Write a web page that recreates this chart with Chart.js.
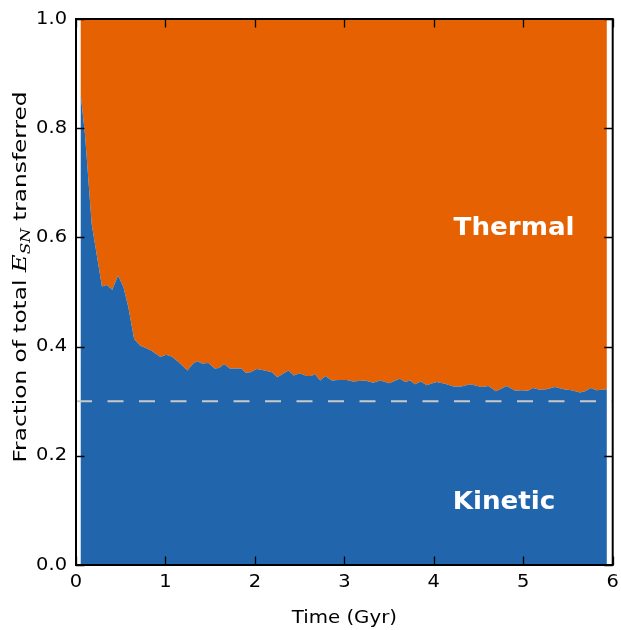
<!DOCTYPE html>
<html>
<head>
<meta charset="utf-8">
<script src="https://cdn.jsdelivr.net/npm/chart.js@4"></script>
<style>
  html, body { margin: 0; padding: 0; background: #ffffff; }
  #wrap { width: 621px; height: 630px; position: relative; }
</style>
</head>
<body>
<div id="wrap"><canvas id="c" width="621" height="630"></canvas></div>
<script>
// Simulation output times (Gyr)
const timeGyr = [0.05, 0.10, 0.175, 0.29, 0.345, 0.405, 0.47, 0.53, 0.585, 0.65, 0.715, 0.83,
  0.945, 1.005, 1.07, 1.145, 1.245, 1.31, 1.355, 1.41, 1.48, 1.55, 1.60, 1.655, 1.72, 1.795,
  1.85, 1.895, 1.95, 2.02, 2.11, 2.19, 2.25, 2.31, 2.375, 2.435, 2.50, 2.58, 2.63, 2.67, 2.73,
  2.785, 2.86, 2.93, 3.025, 3.095, 3.23, 3.325, 3.40, 3.44, 3.50, 3.56, 3.62, 3.68, 3.735, 3.79,
  3.855, 3.92, 4.03, 4.125, 4.22, 4.31, 4.405, 4.535, 4.61, 4.695, 4.815, 4.91, 4.98, 5.05,
  5.11, 5.18, 5.26, 5.355, 5.45, 5.54, 5.635, 5.69, 5.755, 5.82, 5.875, 5.935];

// Fraction of the supernova energy that ends up as kinetic energy
const kineticFrac = [0.865, 0.79, 0.625, 0.51, 0.513, 0.504, 0.53, 0.509, 0.472, 0.414, 0.402, 0.394,
  0.381, 0.385, 0.382, 0.372, 0.356, 0.369, 0.373, 0.369, 0.37, 0.36, 0.361, 0.368, 0.36, 0.36,
  0.36, 0.352, 0.353, 0.359, 0.356, 0.353, 0.344, 0.35, 0.356, 0.347, 0.351, 0.346, 0.346, 0.35, 0.338,
  0.346, 0.338, 0.339, 0.339, 0.336, 0.338, 0.334, 0.338, 0.336, 0.333, 0.337, 0.341, 0.335, 0.338, 0.331,
  0.336, 0.329, 0.335, 0.332, 0.327, 0.327, 0.331, 0.326, 0.328, 0.318, 0.328, 0.319, 0.32, 0.319,
  0.324, 0.321, 0.322, 0.326, 0.322, 0.32, 0.316, 0.318, 0.324, 0.32, 0.321, 0.322];

// The remainder goes into thermal energy
const thermalFrac = kineticFrac.map(k => 1 - k);

// Reference level
const refLevel = 0.3;
const refSpan = [0, 6];

// Axis ticks
const xTicks = [0, 1, 2, 3, 4, 5, 6];
const yTicks = [0.0, 0.2, 0.4, 0.6, 0.8, 1.0];

const BLUE = '#2166ac';
const ORANGE = '#e66101';

const pts = (xs, ys) => xs.map((x, i) => ({ x: x, y: ys[i] }));

// Draw text with an optional stretch along the text direction
function stretchedText(ctx, text, x, y, font, align, baseline, sx) {
  ctx.save();
  ctx.font = font;
  ctx.textBaseline = baseline;
  ctx.translate(x, y);
  ctx.scale(sx, 1);
  ctx.textAlign = align;
  ctx.fillText(text, 0, 0);
  ctx.restore();
}

const framePlugin = {
  id: 'frame',
  afterDatasetsDraw(chart) {
    const { ctx, chartArea: a, scales } = chart;
    const xs = scales.x, ys = scales.y;
    ctx.save();

    // in-plot labels
    ctx.fillStyle = '#ffffff';
    stretchedText(ctx, 'Thermal', xs.getPixelForValue(4.897), ys.getPixelForValue(0.605),
      'bold 24px "DejaVu Sans"', 'center', 'alphabetic', 1.09);
    stretchedText(ctx, 'Kinetic', xs.getPixelForValue(4.785), ys.getPixelForValue(0.102),
      'bold 24px "DejaVu Sans"', 'center', 'alphabetic', 1.09);

    // frame
    ctx.strokeStyle = '#000000';
    ctx.lineWidth = 2;
    ctx.strokeRect(a.left, a.top, a.right - a.left, a.bottom - a.top);

    // inward ticks on all four sides
    ctx.lineWidth = 1.3;
    const tl = 8.5;
    ctx.beginPath();
    xTicks.forEach(v => {
      const px = Math.round(xs.getPixelForValue(v)) + 0.5;
      ctx.moveTo(px, a.bottom); ctx.lineTo(px, a.bottom - tl);
      ctx.moveTo(px, a.top); ctx.lineTo(px, a.top + tl);
    });
    yTicks.forEach(v => {
      const py = Math.round(ys.getPixelForValue(v)) + 0.5;
      ctx.moveTo(a.left, py); ctx.lineTo(a.left + tl, py);
      ctx.moveTo(a.right, py); ctx.lineTo(a.right - tl, py);
    });
    ctx.stroke();

    // tick labels
    ctx.fillStyle = '#000000';
    const tickFont = '18px "DejaVu Sans"';
    xTicks.forEach(v => {
      stretchedText(ctx, String(v), xs.getPixelForValue(v), a.bottom + 8, tickFont, 'center', 'top', 1.08);
    });
    yTicks.forEach(v => {
      stretchedText(ctx, v.toFixed(1), a.left - 9, ys.getPixelForValue(v), tickFont, 'right', 'middle', 1.08);
    });

    // x title
    stretchedText(ctx, 'Time (Gyr)', (a.left + a.right) / 2, a.bottom + 58, tickFont, 'center', 'alphabetic', 1.1);

    // y title with math-style E_SN
    const parts = [
      { t: 'Fraction of total ', f: '18px "DejaVu Sans"', dy: 0 },
      { t: 'E', f: 'italic 19px "DejaVu Serif"', dy: 0 },
      { t: 'SN', f: 'italic 13px "DejaVu Serif"', dy: 4 },
      { t: ' transferred', f: '18px "DejaVu Sans"', dy: 0 }
    ];
    let total = 0;
    parts.forEach(p => { ctx.font = p.f; p.w = ctx.measureText(p.t).width; total += p.w; });
    ctx.save();
    ctx.translate(26, 277);
    ctx.rotate(-Math.PI / 2);
    ctx.scale(1.29, 1);
    ctx.textBaseline = 'alphabetic';
    ctx.textAlign = 'left';
    let cx = -total / 2;
    parts.forEach(p => { ctx.font = p.f; ctx.fillText(p.t, cx, p.dy); cx += p.w; });
    ctx.restore();

    ctx.restore();
  }
};

new Chart(document.getElementById('c'), {
  type: 'line',
  data: {
    datasets: [
      {
        label: 'Kinetic',
        data: pts(timeGyr, kineticFrac),
        backgroundColor: BLUE,
        borderColor: BLUE,
        borderWidth: 0,
        pointRadius: 0,
        fill: 'origin',
        stack: 'energy',
        order: 2
      },
      {
        label: 'Thermal',
        data: pts(timeGyr, thermalFrac),
        backgroundColor: ORANGE,
        borderColor: ORANGE,
        borderWidth: 0,
        pointRadius: 0,
        fill: '-1',
        stack: 'energy',
        order: 3
      },
      {
        label: 'ref',
        data: pts(refSpan, [refLevel, refLevel]),
        borderColor: '#c9c9c9',
        borderWidth: 2,
        borderDash: [16, 15.5],
        pointRadius: 0,
        fill: false,
        stack: 'ref',
        order: 0
      }
    ]
  },
  options: {
    responsive: false,
    animation: false,
    devicePixelRatio: 1,
    layout: { padding: { left: 76, right: 8.3, top: 19, bottom: 65 } },
    plugins: { legend: { display: false }, tooltip: { enabled: false } },
    elements: { line: { tension: 0 } },
    scales: {
      x: { type: 'linear', min: 0, max: 6, display: false },
      y: { type: 'linear', min: 0, max: 1, stacked: true, display: false }
    }
  },
  plugins: [framePlugin]
});
</script>
</body>
</html>
